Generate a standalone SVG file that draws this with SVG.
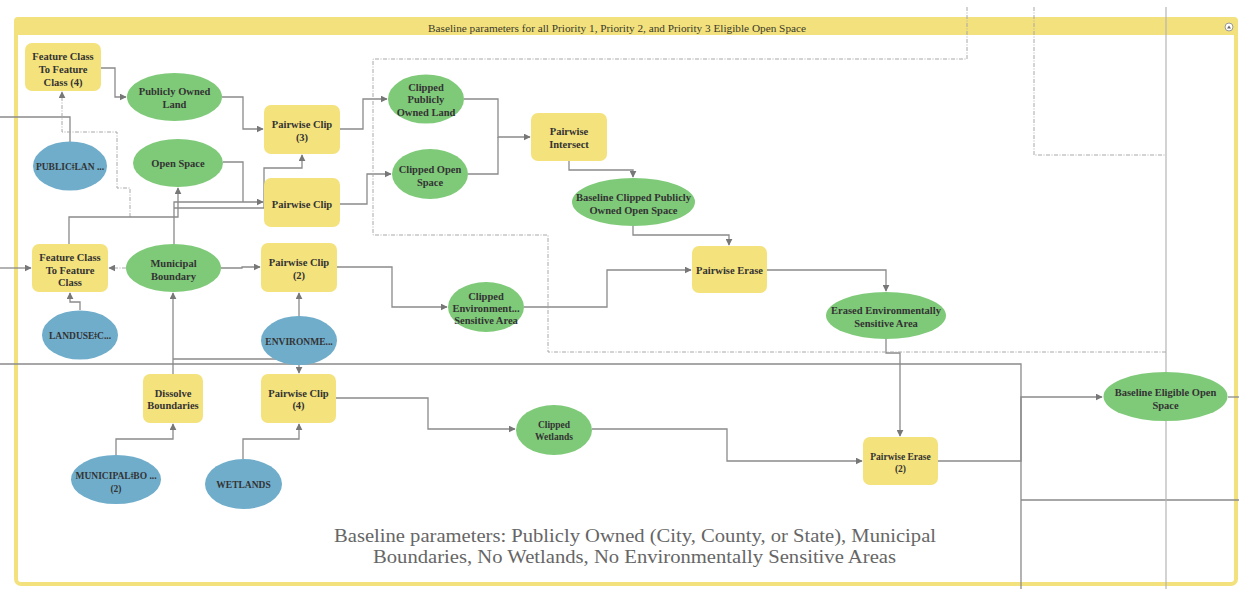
<svg xmlns="http://www.w3.org/2000/svg" width="1239" height="589" viewBox="0 0 1239 589">
<defs>
<style>
.frame{fill:none;stroke:#F3E17D;stroke-width:4}
.hdr{fill:#F3E17D}
.ttl{font-family:"Liberation Serif",serif;font-size:10.5px;fill:#3a3a2a;text-anchor:middle}
.proc{fill:#F4E27C}
.data{fill:#7FCA79}
.src{fill:#6FADCB}
.lbl{font-family:"Liberation Serif",serif;font-size:10.5px;font-weight:bold;fill:#333;text-anchor:middle}
.sm{font-size:9.5px}
.ln{fill:none;stroke:#8a8a8a;stroke-width:1.3}
.lt{fill:none;stroke:#b5b5b5;stroke-width:1.2}
.dd{fill:none;stroke:#a8a8a8;stroke-width:1;stroke-dasharray:4 1.5 1 1.5}
.cap{font-family:"Liberation Serif",serif;font-size:18px;fill:#666;text-anchor:middle}
</style>
<marker id="ar" viewBox="0 0 10 10" refX="9" refY="5" markerWidth="7" markerHeight="7" markerUnits="userSpaceOnUse" orient="auto">
<path d="M0,0 L10,5 L0,10 z" fill="#777"/>
</marker>
<clipPath id="hc"><rect x="14" y="17" width="1224" height="18"/></clipPath>
</defs>

<g id="frame">
<rect class="frame" x="16" y="19" width="1220" height="565" rx="5"/>
<rect class="hdr" x="14" y="17" width="1224" height="18" rx="4"/>
<text class="ttl" x="617" y="31.5" textLength="378" lengthAdjust="spacingAndGlyphs" clip-path="url(#hc)">Baseline parameters for all Priority 1, Priority 2, and Priority 3 Eligible Open Space</text>
<circle cx="1229" cy="27" r="4" fill="#fff" stroke="#999" stroke-width="1"/>
<path d="M1227,28.5 L1229,25.5 L1231,28.5 z" fill="#666"/>
</g>

<g id="connectors">
<path class="ln" d="M101,68 H115 V97 H126" marker-end="url(#ar)"/>
<path class="ln" d="M0,117 H70 V142"/>
<path class="dd" d="M130,217 V188 H117 V132 H62 V92" marker-end="url(#ar)"/>
<path class="ln" d="M222,97 H243 V129 H263" marker-end="url(#ar)"/>
<path class="ln" d="M223,162 H243 V202"/>
<path class="ln" d="M174,244 V202 H263" marker-end="url(#ar)"/>
<path class="ln" d="M174,208 H264 V168 H302 V155" marker-end="url(#ar)"/>
<path class="ln" d="M69,244 V217 H178 V188" marker-end="url(#ar)"/>
<path class="ln" d="M340,129 H363 V99 H387" marker-end="url(#ar)"/>
<path class="ln" d="M340,204 H367 V174 H391" marker-end="url(#ar)"/>
<path class="ln" d="M464,99 H498 V137 H530" marker-end="url(#ar)"/>
<path class="ln" d="M468,174 H498 V137"/>
<path class="ln" d="M569,161 V170 H633 V177" marker-end="url(#ar)"/>
<path class="ln" d="M0,268 H31" marker-end="url(#ar)"/>
<path class="dd" d="M126,268 H109" marker-end="url(#ar)"/>
<path class="ln" d="M80,310 V302 H70 V293" marker-end="url(#ar)"/>
<path class="ln" d="M221,268 H242 V267 H260" marker-end="url(#ar)"/>
<path class="ln" d="M299,316 V293" marker-end="url(#ar)"/>
<path class="ln" d="M173,374 V293" marker-end="url(#ar)"/>
<path class="ln" d="M173,359 H299"/>
<path class="ln" d="M299,364 V373" marker-end="url(#ar)"/>
<path class="ln" d="M0,364 H1021 V589"/>
<path class="ln" d="M116,455 V439 H173 V424" marker-end="url(#ar)"/>
<path class="ln" d="M243,459 V439 H299 V424" marker-end="url(#ar)"/>
<path class="ln" d="M337,267 H392 V307 H447" marker-end="url(#ar)"/>
<path class="ln" d="M524,307 H607 V270 H691" marker-end="url(#ar)"/>
<path class="ln" d="M633,226 V235 H729 V245" marker-end="url(#ar)"/>
<path class="ln" d="M767,270 H886 V291" marker-end="url(#ar)"/>
<path class="ln" d="M886,339 V353 H900 V436" marker-end="url(#ar)"/>
<path class="ln" d="M336,398 H428 V429 H515" marker-end="url(#ar)"/>
<path class="ln" d="M592,429 H727 V461 H862" marker-end="url(#ar)"/>
<path class="ln" d="M938,461 H1021 V397 H1102" marker-end="url(#ar)"/>
<path class="ln" d="M1021,500 H1239"/>
<path class="lt" d="M1166,7 V589"/>
<path class="ln" d="M1228,397 H1239"/>
<path class="dd" d="M967,7 V59 H373 V235 H548 V352 H1166"/>
<path class="dd" d="M1034,7 V155 H1166"/>
</g>

<g id="fc4"><rect class="proc" x="25" y="43" width="76" height="48" rx="7"/>
<text class="lbl" x="63" y="59.5">Feature Class</text><text class="lbl" x="63" y="72.5">To Feature</text><text class="lbl" x="63" y="85.5">Class (4)</text></g>
<g id="pol"><ellipse class="data" cx="174.5" cy="97" rx="47.5" ry="24"/>
<text class="lbl" x="174.5" y="94.5">Publicly Owned</text><text class="lbl" x="174.5" y="107.5">Land</text></g>
<g id="publiclan"><ellipse class="src" cx="70" cy="166" rx="37" ry="24.5"/>
<text class="lbl sm" x="70" y="170">PUBLICǂLAN ...</text></g>
<g id="openspace"><ellipse class="data" cx="178" cy="163" rx="45" ry="24"/>
<text class="lbl" x="178" y="166.5">Open Space</text></g>
<g id="pc3"><rect class="proc" x="264" y="105" width="76" height="49" rx="7"/>
<text class="lbl" x="302" y="127.5">Pairwise Clip</text><text class="lbl" x="302" y="140.5">(3)</text></g>
<g id="pc"><rect class="proc" x="264" y="178" width="76" height="49" rx="7"/>
<text class="lbl" x="302" y="207.5">Pairwise Clip</text></g>
<g id="cpol"><ellipse class="data" cx="426" cy="99" rx="38" ry="24.5"/>
<text class="lbl" x="426" y="90.5">Clipped</text><text class="lbl" x="426" y="103">Publicly</text><text class="lbl" x="426" y="115.5">Owned Land</text></g>
<g id="cos"><ellipse class="data" cx="430" cy="174" rx="38" ry="25"/>
<text class="lbl" x="430" y="172.5">Clipped Open</text><text class="lbl" x="430" y="185.5">Space</text></g>
<g id="pi"><rect class="proc" x="531" y="113" width="76" height="48" rx="7"/>
<text class="lbl" x="569" y="134.5">Pairwise</text><text class="lbl" x="569" y="148">Intersect</text></g>
<g id="bcpoos"><ellipse class="data" cx="633.5" cy="202" rx="61.5" ry="24"/>
<text class="lbl" x="633.5" y="200.5">Baseline Clipped Publicly</text><text class="lbl" x="633.5" y="213.5">Owned Open Space</text></g>
<g id="fc"><rect class="proc" x="32" y="244" width="76" height="48" rx="7"/>
<text class="lbl" x="70" y="260.5">Feature Class</text><text class="lbl" x="70" y="273.5">To Feature</text><text class="lbl" x="70" y="285.5">Class</text></g>
<g id="mb"><ellipse class="data" cx="173.5" cy="268" rx="47.5" ry="24"/>
<text class="lbl" x="173.5" y="266.5">Municipal</text><text class="lbl" x="173.5" y="279.5">Boundary</text></g>
<g id="pc2"><rect class="proc" x="261" y="243" width="76" height="49" rx="7"/>
<text class="lbl" x="299" y="265.5">Pairwise Clip</text><text class="lbl" x="299" y="278.5">(2)</text></g>
<g id="landuse"><ellipse class="src" cx="80" cy="335" rx="38" ry="24.5"/>
<text class="lbl sm" x="80" y="338.5">LANDUSEǂC...</text></g>
<g id="env"><ellipse class="src" cx="299" cy="340.5" rx="38" ry="24.5"/>
<text class="lbl sm" x="299" y="344.5">ENVIRONME...</text></g>
<g id="dissolve"><rect class="proc" x="143" y="374" width="60" height="49" rx="7"/>
<text class="lbl" x="173" y="396.5">Dissolve</text><text class="lbl" x="173" y="408.5">Boundaries</text></g>
<g id="pc4"><rect class="proc" x="261" y="374" width="75" height="49" rx="7"/>
<text class="lbl" x="298.5" y="396.5">Pairwise Clip</text><text class="lbl" x="298.5" y="408.5">(4)</text></g>
<g id="cesa"><ellipse class="data" cx="486" cy="307" rx="38" ry="25"/>
<text class="lbl" x="486" y="299.5">Clipped</text><text class="lbl" x="486" y="311.5">Environment...</text><text class="lbl" x="486" y="324">Sensitive Area</text></g>
<g id="pe"><rect class="proc" x="692" y="246" width="75" height="47" rx="7"/>
<text class="lbl" x="729.5" y="273.5">Pairwise Erase</text></g>
<g id="eesa"><ellipse class="data" cx="886" cy="315.5" rx="60" ry="23.5"/>
<text class="lbl" x="886" y="313.5">Erased Environmentally</text><text class="lbl" x="886" y="326.5">Sensitive Area</text></g>
<g id="cw"><ellipse class="data" cx="554" cy="430" rx="38" ry="25"/>
<text class="lbl sm" x="554" y="428">Clipped</text><text class="lbl sm" x="554" y="440">Wetlands</text></g>
<g id="pe2"><rect class="proc" x="863" y="437" width="75" height="48" rx="7"/>
<text class="lbl sm" x="900.5" y="460">Pairwise Erase</text><text class="lbl sm" x="900.5" y="472">(2)</text></g>
<g id="beos"><ellipse class="data" cx="1165.5" cy="396.5" rx="62" ry="24.5"/>
<text class="lbl" x="1165.5" y="395.5">Baseline Eligible Open</text><text class="lbl" x="1165.5" y="408.5">Space</text></g>
<g id="muni2"><ellipse class="src" cx="116" cy="479.5" rx="45" ry="24.5"/>
<text class="lbl sm" x="116" y="478.5">MUNICIPALǂBO ...</text><text class="lbl sm" x="116" y="491.5">(2)</text></g>
<g id="wetlands"><ellipse class="src" cx="243.5" cy="484" rx="38.5" ry="25"/>
<text class="lbl sm" x="243.5" y="488">WETLANDS</text></g>

<g id="caption">
<text class="cap" x="635" y="542" textLength="602" lengthAdjust="spacingAndGlyphs">Baseline parameters: Publicly Owned (City, County, or State), Municipal</text>
<text class="cap" x="634.5" y="563" textLength="523" lengthAdjust="spacingAndGlyphs">Boundaries, No Wetlands, No Environmentally Sensitive Areas</text>
</g>
</svg>
